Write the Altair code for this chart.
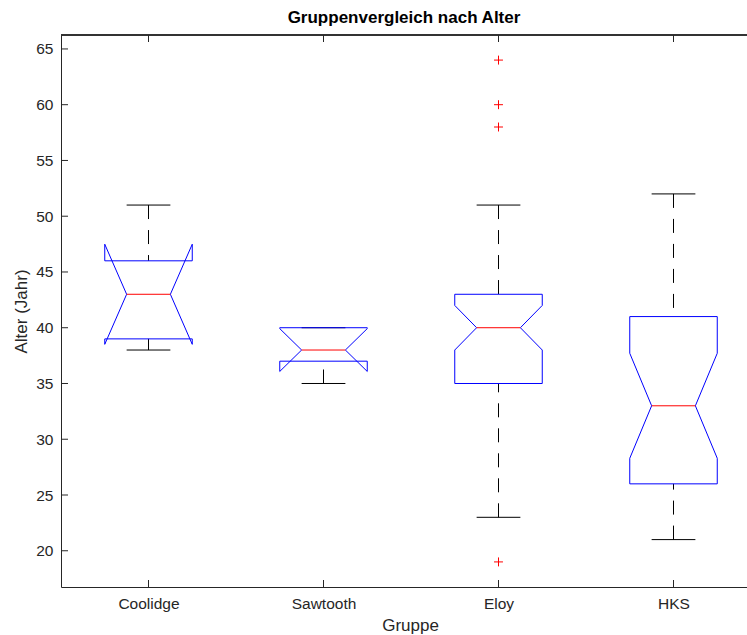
import altair as alt
import pandas as pd

# ---- data ----
groups = ["Coolidge", "Sawtooth", "Eloy", "HKS"]
positions = [1, 2, 3, 4]
whisker_low = [38, 35, 23, 21]
q1 = [39, 37, 35, 26]
median = [43, 38, 40, 33]
q3 = [46, 40, 43, 41]
whisker_high = [51, 40, 51, 52]
notch_low = [38.51, 36.08, 38.0, 28.29]
notch_high = [47.49, 39.92, 42.0, 37.71]
outlier_pos = [3, 3, 3, 3]
outlier_value = [64, 60, 58, 19]
y_ticks = [20, 25, 30, 35, 40, 45, 50, 55, 60, 65]

BOX_HALF = 0.25
NOTCH_HALF = 0.125
W, H = 686, 552
XDOM = [0.5, 0.5 + W / 175.0]
YDOM = [16.75, 66.25]
FONT = "Liberation Sans"
AX = "#262626"

# notched box outline
rows = []
for g, p, a, b, m, nl, nh in zip(groups, positions, q1, q3, median, notch_low, notch_high):
    pts = [
        (p - BOX_HALF, b), (p + BOX_HALF, b), (p + BOX_HALF, nh), (p + NOTCH_HALF, m),
        (p + BOX_HALF, nl), (p + BOX_HALF, a), (p - BOX_HALF, a), (p - BOX_HALF, nl),
        (p - NOTCH_HALF, m), (p - BOX_HALF, nh), (p - BOX_HALF, b),
    ]
    for i, (x, y) in enumerate(pts):
        rows.append({"group": g, "order": i, "x": x, "y": y})
box_df = pd.DataFrame(rows)

stats = pd.DataFrame({
    "group": groups, "pos": positions, "lo": whisker_low, "q1": q1, "med": median,
    "q3": q3, "hi": whisker_high,
})
stats["xl"] = stats["pos"] - NOTCH_HALF
stats["xr"] = stats["pos"] + NOTCH_HALF
out_df = pd.DataFrame({"pos": outlier_pos, "value": outlier_value})
yt_df = pd.DataFrame({"v": y_ticks})
xt_df = pd.DataFrame({"p": positions})

xs = alt.Scale(domain=XDOM, nice=False, zero=False)
ys = alt.Scale(domain=YDOM, nice=False, zero=False)

label_expr = "[" + ",".join("'%s'" % g for g in groups) + "][datum.value - 1]"

x_axis = alt.Axis(values=positions, labelExpr=label_expr, ticks=False, grid=False,
                  domainColor=AX, labelColor=AX, labelFont=FONT, labelFontSize=15.5,
                  labelPadding=9, title="Gruppe", titleFont=FONT, titleFontSize=17,
                  titleFontWeight="normal", titleColor=AX, titleX=349, titleY=43,
                  titleBaseline="alphabetic")
y_axis = alt.Axis(values=y_ticks, ticks=False, grid=False, domainColor=AX, labelColor=AX,
                  labelFont=FONT, labelFontSize=15.5, labelPadding=8,
                  title="Alter (Jahr)", titleFont=FONT, titleFontSize=17,
                  titleFontWeight="normal", titleColor=AX, titleX=-35, titleY=H / 2,
                  titleBaseline="alphabetic", titleAlign="center")


def X(f):
    return alt.X(f, scale=xs, axis=x_axis)


def Y(f):
    return alt.Y(f, scale=ys, axis=y_axis)


boxes = alt.Chart(box_df).mark_line(color="#0000ff", strokeWidth=1).encode(
    x=X("x:Q"), y=Y("y:Q"), detail="group:N", order="order:Q")

whisk_hi = alt.Chart(stats).mark_rule(color="black", strokeWidth=1, strokeDash=[14, 11]).encode(
    x=X("pos:Q"), y=Y("hi:Q"), y2="q3:Q")
whisk_lo = alt.Chart(stats).mark_rule(color="black", strokeWidth=1, strokeDash=[14, 11]).encode(
    x=X("pos:Q"), y=Y("lo:Q"), y2="q1:Q")
cap_hi = alt.Chart(stats).mark_rule(color="black", strokeWidth=1).encode(
    x=X("xl:Q"), x2="xr:Q", y=Y("hi:Q"))
cap_lo = alt.Chart(stats).mark_rule(color="black", strokeWidth=1).encode(
    x=X("xl:Q"), x2="xr:Q", y=Y("lo:Q"))
med = alt.Chart(stats).mark_rule(color="#ff0000", strokeWidth=1).encode(
    x=X("xl:Q"), x2="xr:Q", y=Y("med:Q"))

outl = alt.Chart(out_df).mark_point(shape="M-1,0L1,0M0,-1L0,1", color="#ff0000", filled=False,
                                    size=80, strokeWidth=1, opacity=1).encode(
    x=X("pos:Q"), y=Y("value:Q"))

ytick_l = alt.Chart(yt_df).mark_rule(color=AX, strokeWidth=1).encode(
    y=Y("v:Q"), x=alt.value(0), x2=alt.value(7))
xtick_b = alt.Chart(xt_df).mark_rule(color=AX, strokeWidth=1).encode(
    x=X("p:Q"), y=alt.value(H), y2=alt.value(H - 7))
xtick_t = alt.Chart(xt_df).mark_rule(color=AX, strokeWidth=1).encode(
    x=X("p:Q"), y=alt.value(0), y2=alt.value(7))
top_line = alt.Chart(xt_df).mark_rule(color=AX, strokeWidth=1).encode(
    x=alt.value(0), x2=alt.value(W), y=alt.value(0))

chart = alt.layer(
    whisk_hi, whisk_lo, cap_hi, cap_lo, boxes, med, outl, ytick_l, xtick_b, xtick_t, top_line
).properties(
    width=W, height=H,
    title=alt.TitleParams("Gruppenvergleich nach Alter", fontSize=17, fontWeight="bold",
                          font=FONT, color="black", anchor="middle", offset=8),
    autosize=alt.AutoSizeParams(type="none"),
    padding={"left": 61, "top": 35, "right": 0, "bottom": 48},
    background="white",
).configure_view(stroke=None)

chart.save("out.html", embed_options={"renderer": "svg", "actions": False})
